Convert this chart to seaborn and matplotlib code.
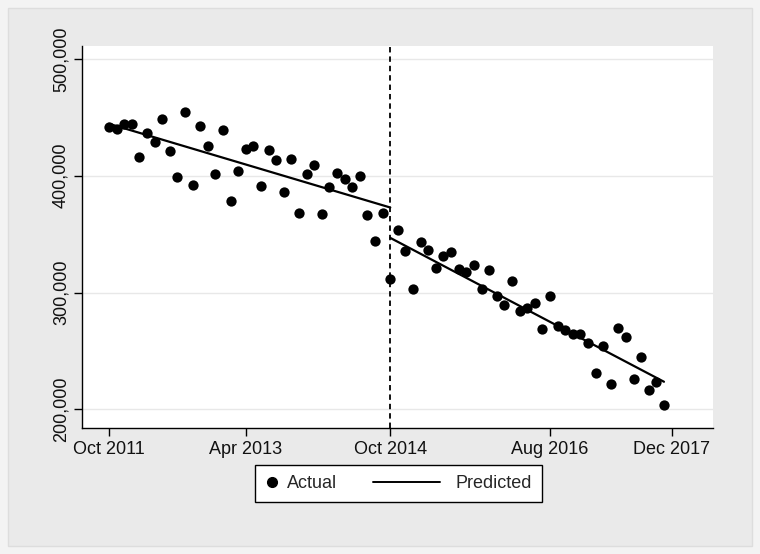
import numpy as np
import pandas as pd
import matplotlib
matplotlib.use("Agg")
import matplotlib.pyplot as plt
import seaborn as sns
from matplotlib.lines import Line2D
from matplotlib.legend_handler import HandlerBase
from matplotlib.patches import Rectangle
from matplotlib.ticker import FuncFormatter

# monthly counts, index 0 = Oct 2011
actual = [441.5, 439.8, 444.1, 444.6, 416.3, 436.9, 428.7, 448.4, 421.2, 399.2,
          454.6, 392.1, 442.9, 425.5, 401.5, 438.9, 378.4, 404.1, 423.2, 425.2,
          391.5, 421.8, 413.8, 385.8, 414.4, 368.1, 401.5, 409.2, 367.0, 390.1,
          402.6, 397.0, 390.1, 399.8, 366.1, 344.0, 368.1, 311.6, 353.6, 335.8,
          303.0, 343.0, 336.2, 321.0, 331.3, 334.5, 319.9, 317.6, 323.3, 303.0,
          319.6, 296.8, 289.1, 310.3, 284.4, 286.5, 290.8, 269.0, 297.3, 271.3,
          268.2, 264.5, 264.5, 256.5, 231.4, 254.0, 221.7, 269.6, 262.2, 226.2,
          245.1, 216.3, 223.4, 203.7]
actual = [v * 1000 for v in actual]
months = list(range(len(actual)))

# fitted trend, before and after the break
pre_x = [0, 37]
pre_y = [444500, 372800]
post_x = [37, 73]
post_y = [346800, 223600]

break_at = 37
tick_pos = [0, 18, 37, 58, 74]
tick_labels = ["Oct 2011", "Apr 2013", "Oct 2014", "Aug 2016", "Dec 2017"]
y_ticks = [200000, 300000, 400000, 500000]

df = pd.DataFrame({"month": months, "actual": actual})
pre = pd.DataFrame({"month": pre_x, "pred": pre_y})
post = pd.DataFrame({"month": post_x, "pred": post_y})

sns.set_style("ticks")
plt.rcParams["font.family"] = ["Liberation Sans", "DejaVu Sans"]

fig = plt.figure(figsize=(7.6, 5.54), dpi=100, facecolor="#f3f3f3")
bg = Rectangle((8 / 760, 8 / 554), 744 / 760, 538 / 554,
               transform=fig.transFigure, facecolor="#eaeaea",
               edgecolor="#dddddd", lw=1, zorder=-5)
fig.patches.append(bg)
ax = fig.add_axes([82 / 760, 1 - 428 / 554, 631 / 760, 382 / 554])
ax.set_facecolor("white")

sns.scatterplot(data=df, x="month", y="actual", ax=ax, color="black",
                s=55, edgecolor="black", linewidth=0, zorder=3)
sns.lineplot(data=pre, x="month", y="pred", ax=ax, color="black", lw=1.6, zorder=4)
sns.lineplot(data=post, x="month", y="pred", ax=ax, color="black", lw=1.6, zorder=4)
ax.axvline(break_at, color="black", lw=1.3, ls=(0, (3, 2.2)), zorder=2)

ax.set_xlim(-3.55, 79.45)
ax.set_ylim(184000, 511100)
ax.set_xticks(tick_pos)
ax.set_xticklabels(tick_labels)
ax.set_yticks(y_ticks)
ax.yaxis.set_major_formatter(FuncFormatter(lambda v, p: f"{int(v):,}"))
for t in ax.get_yticklabels():
    t.set_rotation(90)
    t.set_va("center")
ax.tick_params(axis="both", labelsize=13, length=6, width=1, color="black",
               labelcolor="#111111", pad=3)
ax.yaxis.grid(True, color="#e8e8e8", lw=1)
ax.set_axisbelow(True)
ax.set_xlabel("")
ax.set_ylabel("")
for side in ["top", "right"]:
    ax.spines[side].set_visible(False)
for side in ["left", "bottom"]:
    ax.spines[side].set_color("black")
    ax.spines[side].set_linewidth(1)


class LongLine(HandlerBase):
    def create_artists(self, legend, orig_handle, xdescent, ydescent,
                       width, height, fontsize, trans):
        y = height / 2 - ydescent
        ln = Line2D([-xdescent - 44, -xdescent + 4.5], [y, y], color="black", lw=1.4)
        ln.set_transform(trans)
        return [ln]


h_dot = Line2D([], [], marker="o", ls="", color="black", markersize=7)
h_line = Line2D([], [], color="black", lw=1.4)
leg = fig.legend([h_dot, h_line], ["Actual", "Predicted"], ncol=2,
                 loc="upper center", bbox_to_anchor=(398.5 / 760, 1 - 465 / 554),
                 fontsize=13, frameon=True, fancybox=False, framealpha=1,
                 edgecolor="black", handlelength=0.8, handletextpad=0.4,
                 columnspacing=5.4, borderpad=0.55, borderaxespad=0,
                 handler_map={h_line: LongLine()})
leg.get_frame().set_linewidth(1)

fig.savefig("out.png", dpi=100, facecolor=fig.get_facecolor())
